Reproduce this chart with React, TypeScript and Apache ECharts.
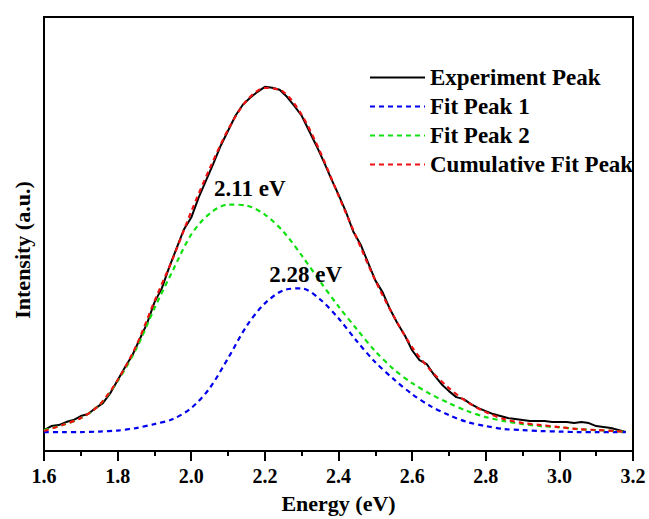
import React, { useEffect, useRef } from "react";
import * as echarts from "echarts";

// Experiment spectrum (energy in eV, intensity in a.u.)
const expEnergy = [
  1.60, 1.62, 1.64, 1.66, 1.68, 1.70, 1.72, 1.74, 1.76, 1.78,
  1.80, 1.82, 1.84, 1.86, 1.88, 1.90, 1.92, 1.94, 1.96, 1.98,
  2.00, 2.02, 2.04, 2.06, 2.08, 2.10, 2.12, 2.14, 2.16, 2.18,
  2.20, 2.22, 2.24, 2.26, 2.28, 2.30, 2.32, 2.34, 2.36, 2.38,
  2.40, 2.42, 2.44, 2.46, 2.48, 2.50, 2.52, 2.54, 2.56, 2.58,
  2.60, 2.62, 2.64, 2.66, 2.68, 2.70, 2.72, 2.74, 2.76, 2.78,
  2.80, 2.82, 2.84, 2.86, 2.88, 2.90, 2.92, 2.94, 2.96, 2.98,
  3.00, 3.02, 3.04, 3.06, 3.08, 3.10, 3.12, 3.14, 3.16, 3.18,
];
const expIntensity = [
  21, 25, 26, 29, 31, 35, 37, 43, 48, 58,
  71, 84, 96, 112, 128, 149, 163, 184, 203, 222,
  234, 254, 271, 288, 306, 321, 336, 347, 354, 360,
  365, 364, 362, 355, 346, 336, 321, 306, 290, 273,
  257, 240, 220, 207, 189, 171, 159, 142, 128, 116,
  101, 91, 87, 76, 67, 60, 54, 52, 47, 43,
  40, 37, 35, 33, 32, 31, 30, 30, 30, 29,
  29, 29, 28, 29, 28, 25, 24, 23, 21, 19,
];

// Fitted curves
const fitEnergy = [
  1.60, 1.65, 1.70, 1.75, 1.80, 1.85, 1.90, 1.95, 2.00, 2.05,
  2.10, 2.15, 2.20, 2.25, 2.30, 2.35, 2.40, 2.45, 2.50, 2.55,
  2.60, 2.65, 2.70, 2.75, 2.80, 2.85, 2.90, 2.95, 3.00, 3.05,
  3.10, 3.15, 3.18,
];
const fitPeak1 = [
  19, 19, 19, 19.5, 20.5, 23, 27, 32, 43, 63,
  93, 125, 148, 161, 163, 152, 133, 110, 89, 72,
  57, 45, 36, 29, 25, 22, 21, 20, 19.5, 19,
  19, 19, 19,
];
const fitPeak2 = [
  21, 26, 33, 46, 70, 102, 143, 181, 217, 238,
  247, 246, 237, 220, 196, 170, 145, 122, 100, 82,
  68, 57, 48, 40, 34, 30, 27, 25, 24, 22,
  21, 20, 19,
];
const cumulativeFit = [
  20, 26, 33, 46, 71, 105, 150, 193, 240, 283,
  322, 351, 364, 360, 337, 300, 256, 213, 171, 135,
  104, 81, 63, 49, 39, 32, 28, 26, 24, 22,
  21, 20, 19,
];

const seriesNames = ["Experiment Peak", "Fit Peak 1", "Fit Peak 2", "Cumulative Fit Peak"];
const peakLabels = ["2.11 eV", "2.28 eV"];
const peakLabelAt = [
  [2.159, 263],
  [2.311, 177],
];
const xTicks = [1.6, 1.8, 2.0, 2.2, 2.4, 2.6, 2.8, 3.0, 3.2];

const FONT = "Liberation Serif";

const pairs = (xs: number[], ys: number[]) => xs.map((x, i) => [x, ys[i]]);

export default function App() {
  const ref = useRef<HTMLDivElement>(null);
  useEffect(() => {
    document.body.style.margin = "0";
    if (!ref.current) return;
    const chart = echarts.init(ref.current, undefined, { renderer: "svg" });
    const dashed = (color: string) => ({ color, width: 2.2, type: [5, 4] as any });
    const bold = (size: number) => ({ fontFamily: FONT, fontWeight: "bold" as const, fontSize: size, color: "#000" });
    chart.setOption({
      animation: false,
      backgroundColor: "#ffffff",
      textStyle: { fontFamily: FONT },
      grid: {
        left: 44,
        right: 16,
        top: 17,
        bottom: 67,
        show: true,
        borderColor: "#000",
        borderWidth: 2,
        backgroundColor: "transparent",
      },
      legend: {
        orient: "vertical",
        left: 364,
        top: 61,
        itemWidth: 55,
        itemHeight: 14,
        itemGap: 6,
        data: seriesNames,
        itemStyle: { opacity: 0 },
        textStyle: { ...bold(23), lineHeight: 23 },
      },
      xAxis: {
        type: "value",
        min: 1.6,
        max: 3.2,
        interval: 0.2,
        name: "Energy (eV)",
        nameLocation: "middle",
        nameGap: 41,
        nameTextStyle: bold(22),
        axisLine: { lineStyle: { color: "#000", width: 2 } },
        axisTick: { show: true, inside: false, length: 10, lineStyle: { color: "#000", width: 2 } },
        minorTick: { show: true, splitNumber: 2, length: 5, lineStyle: { color: "#000", width: 2 } },
        splitLine: { show: false },
        axisLabel: {
          margin: 15,
          ...bold(20),
          formatter: (v: number) => {
            const t = xTicks.find((x) => Math.abs(x - v) < 1e-6);
            return t !== undefined ? t.toFixed(1) : "";
          },
        },
      },
      yAxis: {
        type: "value",
        min: 0,
        max: 435,
        name: "Intensity (a.u.)",
        nameLocation: "middle",
        nameGap: 11,
        nameTextStyle: { ...bold(22), padding: [0, 32, 0, 0] },
        axisLine: { show: true, lineStyle: { color: "#000", width: 2 } },
        axisTick: { show: false },
        axisLabel: { show: false },
        splitLine: { show: false },
      },
      series: [
        {
          name: seriesNames[0],
          type: "line",
          data: pairs(expEnergy, expIntensity),
          showSymbol: false,
          symbol: "none",
          lineStyle: { color: "#000", width: 2 },
          itemStyle: { color: "#000" },
          z: 2,
        },
        {
          name: seriesNames[1],
          type: "line",
          data: pairs(fitEnergy, fitPeak1),
          smooth: 0.3,
          showSymbol: false,
          symbol: "none",
          lineStyle: dashed("#0000ee"),
          itemStyle: { color: "#0000ee" },
          z: 3,
          markPoint: {
            symbol: "circle",
            symbolSize: 0,
            label: { show: true, position: "inside", ...bold(23), formatter: peakLabels[1] },
            data: [{ coord: peakLabelAt[1] }],
          },
        },
        {
          name: seriesNames[2],
          type: "line",
          data: pairs(fitEnergy, fitPeak2),
          smooth: 0.3,
          showSymbol: false,
          symbol: "none",
          lineStyle: dashed("#11e011"),
          itemStyle: { color: "#11e011" },
          z: 3,
          markPoint: {
            symbol: "circle",
            symbolSize: 0,
            label: { show: true, position: "inside", ...bold(23), formatter: peakLabels[0] },
            data: [{ coord: peakLabelAt[0] }],
          },
        },
        {
          name: seriesNames[3],
          type: "line",
          data: pairs(fitEnergy, cumulativeFit),
          smooth: 0.3,
          showSymbol: false,
          symbol: "none",
          lineStyle: dashed("#ee1111"),
          itemStyle: { color: "#ee1111" },
          z: 4,
        },
      ],
    });
    return () => chart.dispose();
  }, []);
  return <div ref={ref} style={{ width: 649, height: 519 }} />;
}
